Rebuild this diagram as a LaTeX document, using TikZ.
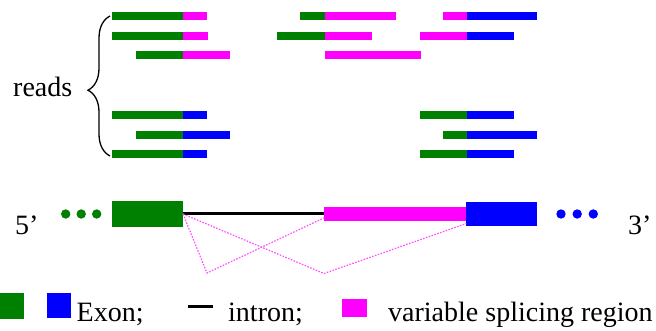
\documentclass[tikz,border=0pt]{standalone}
\usepackage{fontspec}
\setmainfont{Liberation Serif}
\usepackage{tikz}
\usetikzlibrary{decorations.pathreplacing}
\definecolor{exon green}{RGB}{0,128,0}
\definecolor{exon blue}{RGB}{0,0,255}
\definecolor{splice pink}{RGB}{255,0,255}
\definecolor{skip pink}{RGB}{255,80,255}
\tikzstyle{block} = [draw=none, rectangle, inner sep=0pt, outer sep=0pt]
\tikzstyle{exon} = [block, minimum width=71pt, minimum height=25.5pt]
\tikzstyle{region} = [block, minimum width=142.5pt, minimum height=14.3pt, fill=splice pink]
\tikzstyle{key} = [block, minimum width=24pt, minimum height=25.5pt]
\tikzstyle{bead} = [circle, inner sep=0pt, minimum size=9.4pt]
\tikzstyle{label} = [inner sep=0pt, anchor=base west, font=\fontsize{28}{34}\selectfont]
\tikzstyle{intron} = [line width=3pt, black]
\tikzstyle{skip} = [skip pink, line width=1.2pt, dash pattern=on 1.6pt off 1.4pt]
\tikzstyle{brace} = [decorate, decoration={brace, amplitude=22pt, aspect=0.47}, line width=1.3pt]

\begin{document}
\begin{tikzpicture}[x=1pt, y=-1pt]
    \useasboundingbox (0, 0) rectangle (656, 331);

    % Reads.
    \fill [exon green] (112, 12) rectangle (183, 20.5);
    \fill [splice pink] (183, 12) rectangle (207, 20.5);
    \fill [exon green] (300, 12) rectangle (325, 20.5);
    \fill [splice pink] (325, 12) rectangle (396, 20.5);
    \fill [splice pink] (443, 12) rectangle (467, 20.5);
    \fill [exon blue] (467, 12) rectangle (537, 20.5);

    \fill [exon green] (112, 32) rectangle (183, 40.5);
    \fill [splice pink] (183, 32) rectangle (208, 40.5);
    \fill [exon green] (277, 32) rectangle (325, 40.5);
    \fill [splice pink] (325, 32) rectangle (372, 40.5);
    \fill [splice pink] (420, 32) rectangle (467, 40.5);
    \fill [exon blue] (467, 32) rectangle (514, 40.5);

    \fill [exon green] (136, 51) rectangle (183, 59.5);
    \fill [splice pink] (183, 51) rectangle (230, 59.5);
    \fill [splice pink] (325, 51) rectangle (421, 59.5);

    \fill [exon green] (112, 111) rectangle (183, 119.5);
    \fill [exon blue] (183, 111) rectangle (207, 119.5);
    \fill [exon green] (420, 111) rectangle (467, 119.5);
    \fill [exon blue] (467, 111) rectangle (514, 119.5);

    \fill [exon green] (136, 131) rectangle (183, 139.5);
    \fill [exon blue] (183, 131) rectangle (230, 139.5);
    \fill [exon green] (443, 131) rectangle (467, 139.5);
    \fill [exon blue] (467, 131) rectangle (537, 139.5);

    \fill [exon green] (112, 150) rectangle (183, 158.5);
    \fill [exon blue] (183, 150) rectangle (207, 158.5);
    \fill [exon green] (420, 150) rectangle (467, 158.5);
    \fill [exon blue] (467, 150) rectangle (514, 158.5);

    % Brace.
    \coordinate (reads bottom) at (110, 156);
    \coordinate (reads top) at (110, 16);
    \draw [brace] (reads bottom) -- (reads top);
    \node (reads label) [label] at (13, 97) {reads};

    % Gene.
    \node (green exon) [exon, fill=exon green] at (147.5, 214) {};
    \node (splice region) [region] at (395.5, 214) {};
    \node (blue exon) [exon, fill=exon blue, minimum height=24.5pt] at (501.8, 214) {};

    \node (green bead 1) [bead, fill=exon green] at (65.7, 214) {};
    \node (green bead 2) [bead, fill=exon green] at (81.2, 214) {};
    \node (green bead 3) [bead, fill=exon green] at (96.7, 214) {};
    \node (blue bead 1) [bead, fill=exon blue] at (561, 214) {};
    \node (blue bead 2) [bead, fill=exon blue] at (577.2, 214) {};
    \node (blue bead 3) [bead, fill=exon blue] at (593.3, 214) {};

    \node (five end) [label] at (15, 235) {5’};
    \node (three end) [label] at (628, 235) {3’};

    \coordinate (skip low 1) at (207, 273);
    \coordinate (skip low 2) at (324, 273.5);

    % Paths.
    \draw [intron] (green exon.east) -- (splice region.west);
    \draw [skip] (green exon.east) -- (skip low 1) -- (splice region.183);
    \draw [skip] (green exon.east) -- (skip low 2) -- (blue exon.195);

    % Legend.
    \node (green key) [key, fill=exon green] at (11.7, 306.2) {};
    \node (blue key) [key, fill=exon blue] at (58.8, 305.6) {};
    \node (exon text) [label] at (76.5, 321) {Exon;};
    \coordinate (intron key start) at (188, 306.7);
    \coordinate (intron key end) at (213.3, 306.7);
    \draw [intron] (intron key start) -- (intron key end);
    \node (intron text) [label] at (228, 321) {intron;};
    \node (splice key) [key, fill=splice pink, minimum width=25.6pt, minimum height=18pt] at (354.5, 308.3) {};
    \node (splice text) [label] at (388, 321) {variable splicing region};
\end{tikzpicture}
\end{document}
